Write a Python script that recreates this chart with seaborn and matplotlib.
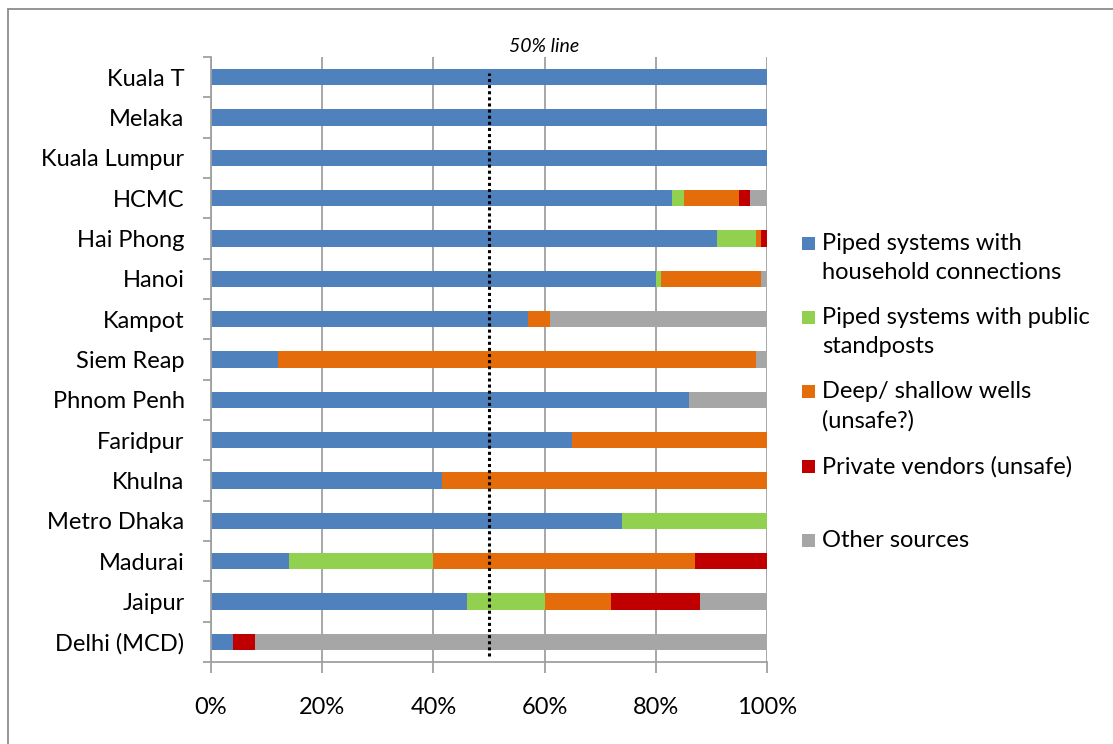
import numpy as np
import pandas as pd
import matplotlib
matplotlib.use("Agg")
import matplotlib.pyplot as plt
import seaborn as sns
from matplotlib.patches import Rectangle
from matplotlib.lines import Line2D
import matplotlib.transforms as mtransforms

# ---- data ----
cities = ["Kuala T", "Melaka", "Kuala Lumpur", "HCMC", "Hai Phong", "Hanoi", "Kampot",
          "Siem Reap", "Phnom Penh", "Faridpur", "Khulna", "Metro Dhaka", "Madurai",
          "Jaipur", "Delhi (MCD)"]
household = [100, 100, 100, 83, 91, 80, 57, 12, 86, 65, 41.5, 74, 14, 46, 4]
public_standposts = [0, 0, 0, 2, 7, 1, 0, 0, 0, 0, 0, 26, 26, 14, 0]
wells = [0, 0, 0, 10, 1, 18, 4, 86, 0, 35, 58.5, 0, 47, 12, 0]
vendors = [0, 0, 0, 2, 1, 0, 0, 0, 0, 0, 0, 0, 13, 16, 4]
other = [0, 0, 0, 3, 0, 1, 39, 2, 14, 0, 0, 0, 0, 12, 92]

series_labels = ["Piped systems with\nhousehold connections",
                 "Piped systems with public\nstandposts",
                 "Deep/ shallow wells\n(unsafe?)",
                 "Private vendors (unsafe)",
                 "Other sources"]
series_colors = ["#4F81BD", "#92D050", "#E46C0A", "#C00000", "#A6A6A6"]
x_ticks = [0, 20, 40, 60, 80, 100]
x_ticklabels = ["0%", "20%", "40%", "60%", "80%", "100%"]
fifty_value = 50
fifty_label = "50% line"

# ---- style ----
sns.set_theme(style="white")
plt.rcParams['font.family'] = ['Lato', 'DejaVu Sans']
FS = 17
GREY = "#A0A0A0"

W, H = 1113, 744
fig = plt.figure(figsize=(W / 100, H / 100), dpi=100)
fig.patch.set_facecolor("white")
ax = fig.add_axes([211 / W, 1 - 662 / H, 556 / W, 605 / H])

df = pd.DataFrame({"city": cities, "household": household, "public": public_standposts,
                   "wells": wells, "vendors": vendors, "other": other})
layer_cols = ["household", "public", "wells", "vendors", "other"]
cum = df[layer_cols].cumsum(axis=1)

# stacked bars: draw cumulative totals from the largest down
for col, color in reversed(list(zip(layer_cols, series_colors))):
    sns.barplot(x=cum[col], y=df["city"], color=color, orient="h", width=0.4,
                saturation=1, errorbar=None, linewidth=0, edgecolor="none", ax=ax)

ax.set_xlim(0, 100)
ax.set_ylim(len(cities) - 0.5, -0.5)
ax.set_xticks(x_ticks)
ax.set_xticklabels(x_ticklabels, fontsize=FS)
ax.set_yticks(range(len(cities)))
ax.set_yticklabels(cities, fontsize=FS)
ax.set_yticks(np.arange(-0.5, len(cities), 1), minor=True)
ax.set_xlabel("")
ax.set_ylabel("")

ax.grid(axis="x", color=GREY, lw=1.3)
ax.grid(axis="y", visible=False)
ax.set_axisbelow(True)
for s in ["top", "right"]:
    ax.spines[s].set_visible(False)
for s in ["left", "bottom"]:
    ax.spines[s].set_color(GREY)
    ax.spines[s].set_linewidth(1.3)

ax.tick_params(axis="y", which="major", length=0, pad=19, labelcolor="black")
ax.tick_params(axis="y", which="minor", left=True, length=6, width=1.3, color=GREY, direction="out")
ax.tick_params(axis="x", which="major", bottom=True, length=8, width=1.3, color=GREY,
               direction="out", pad=17, labelcolor="black")

# 50% reference line
ax.axvline(fifty_value, ymin=(662 - 656) / 605, ymax=(662 - 73) / 605, color="black",
           lw=2.2, linestyle=(0, (1, 1)), zorder=5)
trans = mtransforms.blended_transform_factory(ax.transData, ax.transAxes)
ax.text(60, (662 - 47) / 605, fifty_label, transform=trans, ha="center", va="center",
        fontsize=14, style="italic", color="black")

# legend (markers aligned with first line, as in the original)
leg_y = [243, 317, 391, 466, 540]
for lab, col, yp in zip(series_labels, series_colors, leg_y):
    fig.patches.append(Rectangle((802 / W, 1 - (yp + 6.5) / H), 13 / W, 13 / H,
                                 transform=fig.transFigure, facecolor=col, edgecolor="none"))
    fig.text(822 / W, 1 - (yp - 10) / H, lab, ha="left", va="top", fontsize=FS,
             linespacing=1.45, color="black")

# chart frame (left and top edges visible)
fig.add_artist(Line2D([8 / W, 8 / W], [0, 1 - 9 / H], transform=fig.transFigure,
                      color="#8C8C8C", lw=1.3))
fig.add_artist(Line2D([8 / W, 1], [1 - 9 / H, 1 - 9 / H], transform=fig.transFigure,
                      color="#8C8C8C", lw=1.3))

fig.savefig("out.png", dpi=100, facecolor="white")
